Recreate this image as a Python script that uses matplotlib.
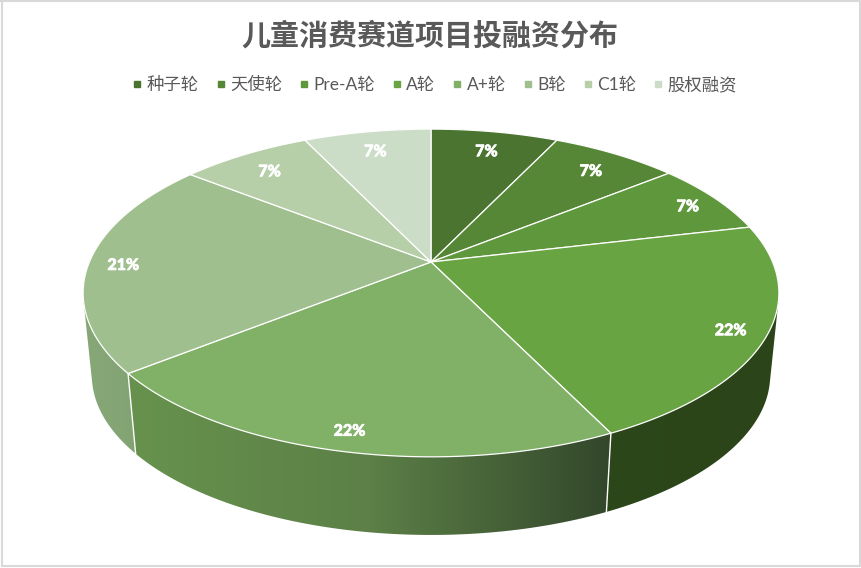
import numpy as np
import matplotlib
matplotlib.use("Agg")
import matplotlib.pyplot as plt
import matplotlib.patheffects as pe
from matplotlib.colors import LinearSegmentedColormap
from matplotlib.lines import Line2D
from matplotlib.patches import Polygon, Rectangle

plt.rcParams['font.family'] = ['Noto Sans CJK SC', 'DejaVu Sans']

title = '儿童消费赛道项目投融资分布'
categories = ['种子轮', '天使轮', 'Pre-A轮', 'A轮', 'A+轮', 'B轮', 'C1轮', '股权融资']
values = [7.1, 7.1, 7.1, 21.5, 21.5, 21.3, 7.3, 7.1]
top_colors = ['#4a7430', '#568736', '#5f983c', '#69a443', '#81b067', '#a0bf8e', '#b6cfa8', '#cbdcc7']
legend_colors = ['#4a7430', '#568736', '#5f983c', '#69a443', '#81b067', '#a0bf8e', '#b6cfa8', '#cbdcc7']
wall_colors = [['#3a5c26', '#3a5c26'], ['#3a5c26', '#3a5c26'], ['#2b4419', '#2b4419'],
               ['#2c4719', '#2b4419'], ['#67924d', '#5c8047', '#33472b'], ['#87a778', '#7c9f6b'],
               ['#87a778', '#87a778'], ['#87a778', '#87a778']]
label_radius = [0.85, 0.85, 0.9, 0.9, 0.9, 0.9, 0.85, 0.85]

# pie projection (pixels): apex, half-axes and perspective strength
CX, CY, A, B, K = 431.0, 262.0, 341.6, 158.0, 0.189
DEPTH, SHRINK = 83.0, 0.975
LABEL_DROP = 2.5


def project(theta, r=1.0):
    """theta: clockwise from 12 o'clock, radians."""
    u, v = r * np.sin(theta), r * np.cos(theta)
    w = 1 + K * v
    return np.column_stack([CX + A * u / w, CY - B * v / w])


def lower(pts):
    return np.column_stack([CX + SHRINK * (pts[:, 0] - CX),
                            CY + SHRINK * (pts[:, 1] - CY) + DEPTH])


def hull(pts):
    p = sorted(map(tuple, pts))
    def half(seq):
        out = []
        for q in seq:
            while len(out) > 1 and ((out[-1][0]-out[-2][0])*(q[1]-out[-2][1])
                                    - (out[-1][1]-out[-2][1])*(q[0]-out[-2][0])) <= 0:
                out.pop()
            out.append(q)
        return out[:-1]
    return np.array(half(p) + half(p[::-1]))


fig = plt.figure(figsize=(8.62, 5.68), dpi=100)
ax = fig.add_axes([0, 0, 1, 1])
ax.set_axis_off()

edges = np.cumsum([0] + values) / sum(values) * 2 * np.pi
mids = (edges[:-1] + edges[1:]) / 2
arcs = [project(np.linspace(edges[i], edges[i + 1], 80)) for i in range(len(values))]

# walls: back to front, so the nearest slice's side is painted last
for i in sorted(range(len(values)), key=lambda j: -abs(mids[j] - np.pi)):
    arc = arcs[i]
    both = np.vstack([arc, lower(arc)])
    x0, x1 = both[:, 0].min(), both[:, 0].max()
    y0, y1 = both[:, 1].min(), both[:, 1].max()
    cmap = LinearSegmentedColormap.from_list(f'w{i}', wall_colors[i])
    img = ax.imshow(np.linspace(0, 1, 256)[None, :], cmap=cmap, aspect='auto',
                    extent=(x0, x1, y1, y0), zorder=1 + 0.01 * (np.pi - abs(mids[i] - np.pi)))
    clip = Polygon(hull(both), closed=True, transform=ax.transData, fc='none', ec='none')
    ax.add_patch(clip)
    img.set_clip_path(clip)

for e in edges[:-1]:
    p = project(np.array([e]))
    q = lower(p)
    ax.plot([p[0, 0], q[0, 0]], [p[0, 1], q[0, 1]], color='white', lw=1, zorder=2)

for i, arc in enumerate(arcs):
    pts = np.vstack([[CX, CY], arc])
    ax.add_patch(Polygon(pts, closed=True, fc=top_colors[i], ec='white', lw=0.9,
                         joinstyle='round', zorder=3))
    lp = project(np.array([mids[i]]), label_radius[i])[0]
    ax.text(lp[0], lp[1] + LABEL_DROP, f'{values[i]:.0f}%', color='white', fontsize=11.5,
            family=['Lato', 'DejaVu Sans'], fontweight=900, ha='center', va='center', zorder=4,
            path_effects=[pe.withStroke(linewidth=0.5, foreground='white')])

ax.add_patch(Rectangle((0, 0), 862, 2.2, fc='#d4d4d4', ec='none', zorder=5))
ax.add_patch(Rectangle((1.8, 1), 858.4, 565, fc='none', ec='#d9d9d9', lw=1.5, zorder=5))

ax.set_xlim(0, 862)
ax.set_ylim(568, 0)

fig.text(430 / 862, 1 - 35.5 / 568, title, fontsize=20.9, fontweight='bold', color='#595959',
         ha='center', va='center')

handles = [Line2D([], [], marker='s', ls='none', ms=4.6, color=c) for c in legend_colors]
fig.legend(handles, categories, loc='center', bbox_to_anchor=(435 / 862, 1 - 85 / 568), ncol=8,
           frameon=False, prop={'family': ['Lato', 'Noto Sans CJK SC'], 'size': 12.5},
           labelcolor='#595959', handlelength=0.5, handletextpad=0.3,
           columnspacing=1.0, borderpad=0)

fig.savefig('out.png', dpi=100, facecolor='white')
